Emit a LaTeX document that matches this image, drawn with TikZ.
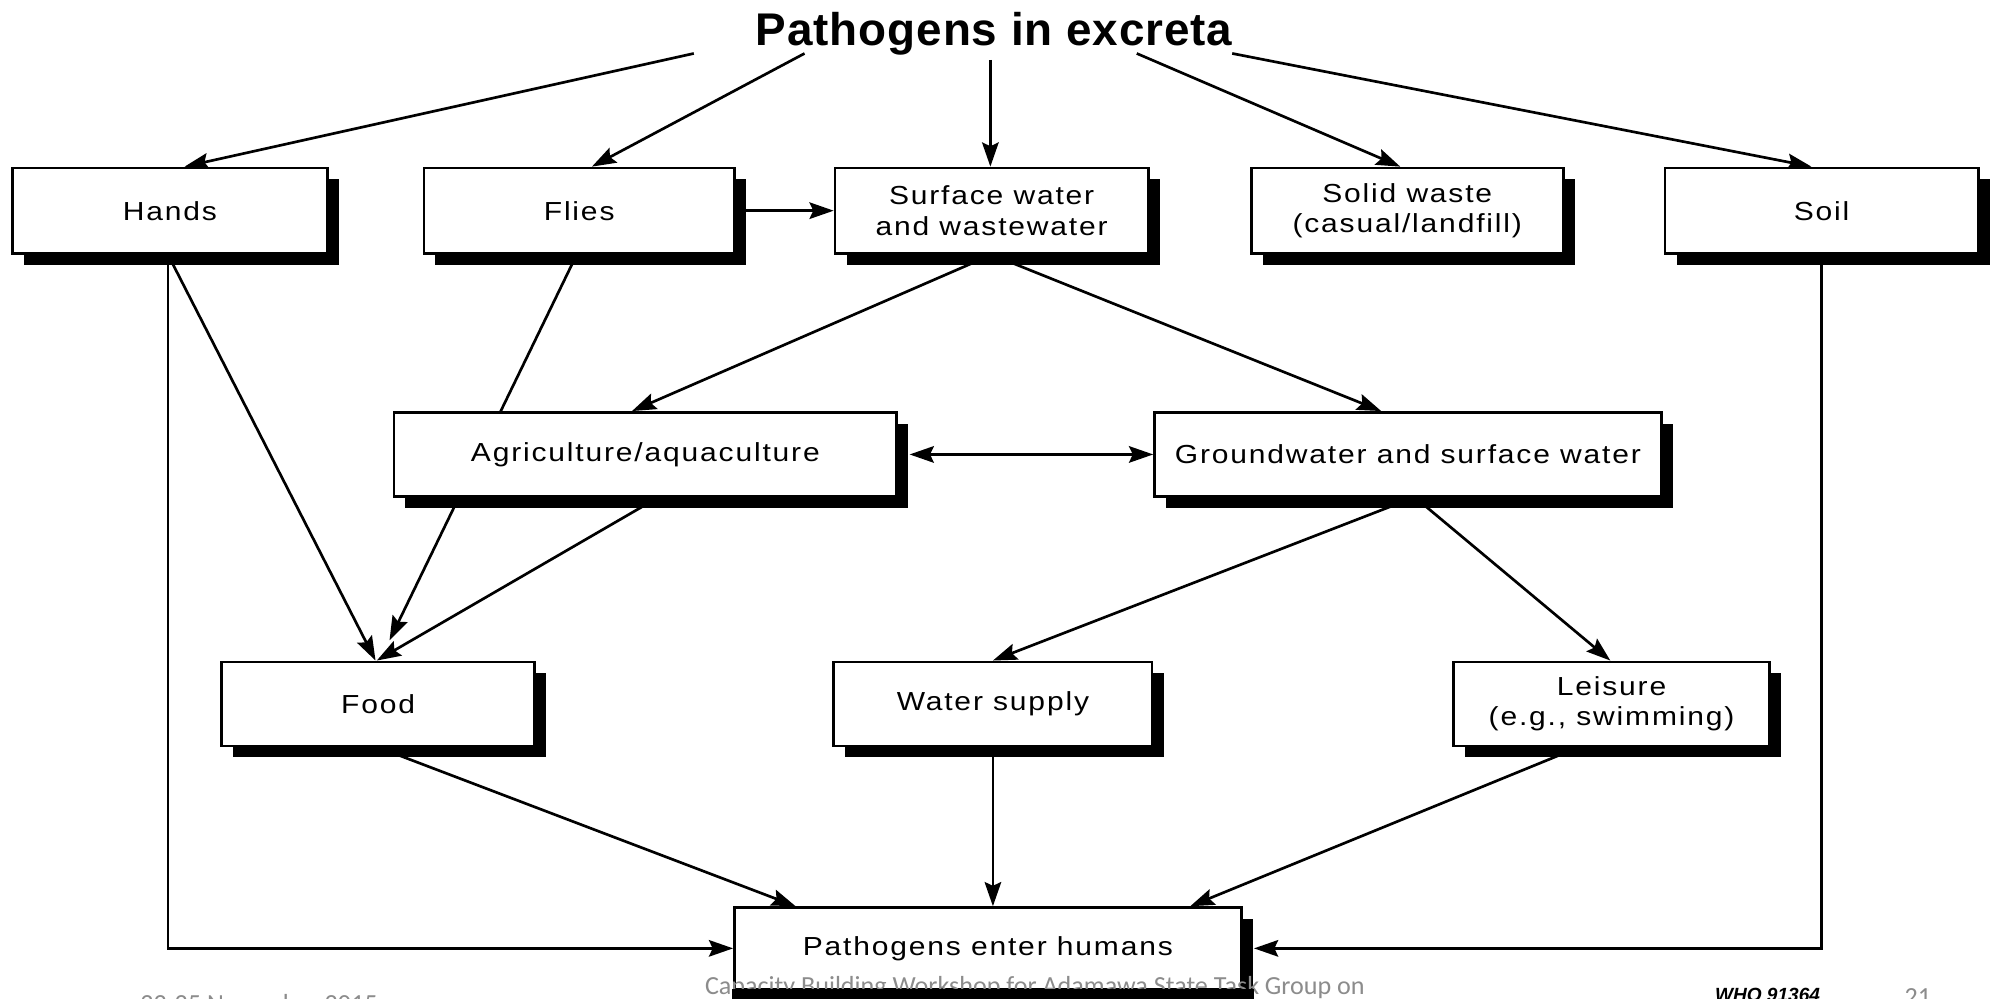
\documentclass[tikz,border=0pt]{standalone}
\usepackage{fontspec}
\setmainfont{Liberation Sans}
\newfontfamily\boxfont[LetterSpace=7,FakeStretch=1.15]{Liberation Sans}
\newfontfamily\titlefont[LetterSpace=2]{Liberation Sans}
\newfontfamily\capfont{Carlito}
\usetikzlibrary{arrows.meta,shadows}
\pgfdeclarelayer{bg}\pgfdeclarelayer{fg}
\pgfsetlayers{bg,main,fg}
\definecolor{capgray}{gray}{0.55}
\begin{document}
\begin{tikzpicture}[x=1pt,y=-1pt,
  box/.style={draw,line width=2.2pt,fill=white,inner sep=0pt,align=center,
    font=\boxfont\fontsize{20.5}{24}\selectfont,
    drop shadow={shadow xshift=9pt,shadow yshift=-9pt,opacity=1,fill=black}},
  arr/.style={line width=2.1pt,-{Stealth[length=19pt,width=13pt,inset=3pt]}},
  darr/.style={line width=2.1pt,{Stealth[length=19pt,width=13pt,inset=3pt]}-{Stealth[length=19pt,width=13pt,inset=3pt]}}]
\useasboundingbox (0,0) rectangle (1568,784);

\node[anchor=base,inner sep=0pt,font=\titlefont\bfseries\fontsize{36}{40}\selectfont] (title) at (781,36) {Pathogens in excreta};

\node[box,minimum width=247pt,minimum height=67pt] (hands) at (133.5,165.5) {Hands};
\node[box,minimum width=244pt,minimum height=67pt] (flies) at (455,165.5) {Flies};
\node[box,minimum width=246pt,minimum height=67pt] (surf) at (779,165.5) {Surface water\\and wastewater};
\node[box,minimum width=245pt,minimum height=67pt] (solid) at (1105.5,165.5) {Solid waste\\(casual/landfill)};
\node[box,minimum width=246pt,minimum height=67pt] (soil) at (1431,165.5) {Soil};

\node[box,minimum width=395pt,minimum height=66pt] (agri) at (507,357) {Agriculture/aquaculture};
\node[box,minimum width=398pt,minimum height=66pt] (ground) at (1106,357) {Groundwater and surface water};

\node[box,minimum width=246pt,minimum height=66pt] (food) at (297,553) {Food};
\node[box,minimum width=250pt,minimum height=66pt] (water) at (780,553) {Water supply};
\node[box,minimum width=248pt,minimum height=66pt] (leisure) at (1266,553) {Leisure\\(e.g., swimming)};

\node[box,minimum width=398pt,minimum height=64pt] (enter) at (776,745) {Pathogens enter humans};

\coordinate (tA) at (545,42);
\coordinate (tB) at (632,42);
\coordinate (tC) at (778,47);
\coordinate (tD) at (893,42);
\coordinate (tE) at (968,42);
\coordinate (fz) at (306,503);

\begin{pgfonlayer}{bg}
\fill[white] (0,0) rectangle (1568,784);
\draw[arr] (tA) -- ([xshift=11.5pt]hands.north);
\draw[arr] (tB) -- ([xshift=10pt]flies.north);
\draw[arr] (tC) -- ([xshift=-1pt]surf.north);
\draw[arr] (tD) -- ([xshift=-5.5pt]solid.north);
\draw[arr] (tE) -- ([xshift=-8pt]soil.north);
\draw[arr] ([xshift=8pt]flies.east) -- (surf.west);
\draw[arr] ([xshift=-1.5pt]hands.south) -- ([xshift=-2pt]food.north);
\draw[arr] ([xshift=-2pt]flies.south) -- (fz);
\draw[arr] ([xshift=9.5pt]agri.south) -- ([xshift=-1pt]food.north);
\draw[arr] (surf.south) -- ([xshift=-10.5pt]agri.north);
\draw[arr] (surf.south) -- ([xshift=-21pt]ground.north);
\draw[darr] ([xshift=9pt]agri.east) -- (ground.west);
\draw[arr] ([xshift=4pt]ground.south) -- (water.north);
\draw[arr] ([xshift=6pt]ground.south) -- ([xshift=-1pt]leisure.north);
\draw[arr] (food.south) -- ([xshift=-151pt]enter.north);
\draw[arr] (water.south) -- (water.south |- enter.north);
\draw[arr] ([xshift=-26pt]leisure.south) -- ([xshift=159pt]enter.north);
\draw[arr] ([xshift=-1.5pt]hands.south) |- (enter.west);
\draw[arr] (soil.south) |- ([xshift=9pt]enter.east);
\end{pgfonlayer}

\begin{pgfonlayer}{fg}
\node[anchor=base,inner sep=0pt,text=capgray,font=\capfont\fontsize{20.5}{24}\selectfont] (cap) at (813,781) {Capacity Building Workshop for Adamawa State Task Group on};
\fill ([xshift=-1.1pt,yshift=1.1pt]enter.south west) rectangle ([xshift=9pt,yshift=-10pt]enter.south east);
\node[anchor=base west,inner sep=0pt,text=capgray,font=\capfont\fontsize{20.5}{24}\selectfont] (date) at (110,795) {22-25 November 2015};
\node[anchor=base east,inner sep=0pt,font=\bfseries\itshape\fontsize{15}{18}\selectfont] (who) at (1430,787) {WHO 91364};
\node[anchor=base west,inner sep=0pt,text=capgray,font=\capfont\fontsize{20.5}{24}\selectfont] (pg) at (1496,790) {21};
\end{pgfonlayer}
\end{tikzpicture}
\end{document}
